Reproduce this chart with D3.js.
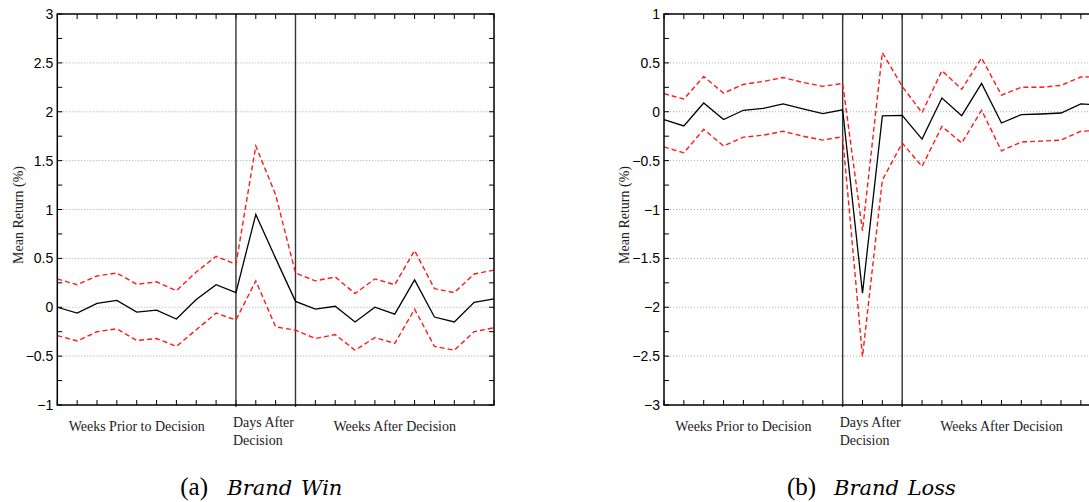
<!DOCTYPE html>
<html>
<head>
<meta charset="utf-8">
<script src="https://cdn.jsdelivr.net/npm/d3@7"></script>
<style>
  body { margin: 0; background: #fff; }
  svg { display: block; }
</style>
</head>
<body>
<div class="viz"></div>
<script>
// Event-time index: 0-9 weeks prior, 9-12 days after, 12-22 weeks after
var steps = [0,1,2,3,4,5,6,7,8,9,10,11,12,13,14,15,16,17,18,19,20,21,22];

// (a) Brand Win
var winMean  = [0, -0.06, 0.04, 0.07, -0.05, -0.03, -0.12, 0.08, 0.23, 0.15, 0.95, 0.5, 0.06, -0.02, 0.01, -0.15, 0.0, -0.07, 0.28, -0.10, -0.15, 0.05, 0.085];
var winUpper = [0.29, 0.23, 0.32, 0.35, 0.235, 0.26, 0.17, 0.36, 0.52, 0.44, 1.65, 1.15, 0.35, 0.27, 0.31, 0.14, 0.29, 0.23, 0.58, 0.19, 0.15, 0.34, 0.38];
var winLower = [-0.29, -0.345, -0.25, -0.22, -0.34, -0.32, -0.40, -0.23, -0.06, -0.13, 0.27, -0.20, -0.235, -0.32, -0.28, -0.44, -0.31, -0.37, -0.02, -0.40, -0.44, -0.25, -0.21];

// (b) Brand Loss
var lossMean  = [-0.08, -0.145, 0.09, -0.08, 0.015, 0.035, 0.08, 0.03, -0.02, 0.02, -1.857, -0.043, -0.037, -0.28, 0.14, -0.04, 0.29, -0.115, -0.03, -0.023, -0.013, 0.08, 0.07];
var lossUpper = [0.185, 0.13, 0.36, 0.19, 0.28, 0.31, 0.35, 0.30, 0.26, 0.29, -1.22, 0.605, 0.26, -0.01, 0.42, 0.23, 0.55, 0.17, 0.25, 0.25, 0.27, 0.355, 0.36];
var lossLower = [-0.36, -0.42, -0.18, -0.35, -0.26, -0.24, -0.20, -0.25, -0.29, -0.255, -2.506, -0.70, -0.32, -0.56, -0.15, -0.32, 0.015, -0.40, -0.31, -0.30, -0.29, -0.20, -0.19];

// y axis ticks
var winTicks  = [-1, -0.5, 0, 0.5, 1, 1.5, 2, 2.5, 3];
var lossTicks = [-3, -2.5, -2, -1.5, -1, -0.5, 0, 0.5, 1];
var winMinor  = [-1, -0.75, -0.5, -0.25, 0, 0.25, 0.5, 0.75, 1, 1.25, 1.5, 1.75, 2, 2.25, 2.5, 2.75, 3];
var lossMinor = [-3, -2.75, -2.5, -2.25, -2, -1.75, -1.5, -1.25, -1, -0.75, -0.5, -0.25, 0, 0.25, 0.5, 0.75, 1];
var eventLines = [9, 12];

var w = 1089, h = 502;
var svg = d3.select('.viz').append('svg').attr('width', w).attr('height', h);

// plot box (named to avoid window.top)
var yTop = 14, yBot = 405, pw = 436.7;
var fmt = function(d) { return String(d).replace('-', '\u2212'); };

function panel(x0, mean, upper, lower, ticks, minor, letter, title) {
  var x = d3.scaleLinear().domain([0, 22]).range([x0, x0 + pw]);
  var y = d3.scaleLinear().domain(d3.extent(ticks)).range([yBot, yTop]);
  var g = svg.append('g');

  // dotted grid on major ticks
  g.selectAll('.grid')
   .data(ticks.slice(1, -1))
   .enter().append('line')
   .attr('x1', x0).attr('x2', x0 + pw)
   .attr('y1', function(d) { return y(d); })
   .attr('y2', function(d) { return y(d); })
   .attr('stroke', '#a8a8a8')
   .attr('stroke-width', 1)
   .attr('stroke-dasharray', '1,2');

  // inward ticks, all four sides
  var tl = 5;
  g.selectAll('.xtb').data(steps).enter().append('line')
   .attr('x1', function(d) { return x(d); }).attr('x2', function(d) { return x(d); })
   .attr('y1', yBot).attr('y2', yBot - tl)
   .attr('stroke', '#000').attr('stroke-width', 1);
  g.selectAll('.xtt').data(steps).enter().append('line')
   .attr('x1', function(d) { return x(d); }).attr('x2', function(d) { return x(d); })
   .attr('y1', yTop).attr('y2', yTop + tl)
   .attr('stroke', '#000').attr('stroke-width', 1);
  g.selectAll('.ytl').data(minor).enter().append('line')
   .attr('x1', x0).attr('x2', x0 + tl)
   .attr('y1', function(d) { return y(d); }).attr('y2', function(d) { return y(d); })
   .attr('stroke', '#000').attr('stroke-width', 1);
  g.selectAll('.ytr').data(minor).enter().append('line')
   .attr('x1', x0 + pw).attr('x2', x0 + pw - tl)
   .attr('y1', function(d) { return y(d); }).attr('y2', function(d) { return y(d); })
   .attr('stroke', '#000').attr('stroke-width', 1);

  // y tick labels
  g.selectAll('.ylab').data(ticks).enter().append('text')
   .attr('x', x0 - 4)
   .attr('y', function(d) { return y(d); })
   .attr('dy', '0.36em')
   .attr('text-anchor', 'end')
   .attr('font-family', 'Liberation Sans, Arial, sans-serif')
   .attr('font-size', '14px')
   .text(fmt);

  // event window lines
  g.selectAll('.ev').data(eventLines).enter().append('line')
   .attr('x1', function(d) { return x(d); }).attr('x2', function(d) { return x(d); })
   .attr('y1', yTop).attr('y2', yBot + 2)
   .attr('stroke', '#333').attr('stroke-width', 1.4);

  var line = d3.line()
    .x(function(d, i) { return x(steps[i]); })
    .y(function(d) { return y(d); });

  [upper, lower].forEach(function(s) {
    g.append('path').datum(s)
     .attr('d', line).attr('fill', 'none')
     .attr('stroke', '#ff1a1a').attr('stroke-width', 1.4)
     .attr('stroke-dasharray', '5,3');
  });
  g.append('path').datum(mean)
   .attr('d', line).attr('fill', 'none')
   .attr('stroke', '#000').attr('stroke-width', 1.3);

  // frame
  g.append('rect')
   .attr('x', x0).attr('y', yTop).attr('width', pw).attr('height', yBot - yTop)
   .attr('fill', 'none').attr('stroke', '#000').attr('stroke-width', 1.5);

  // axis titles
  var serif = 'Liberation Serif, Times New Roman, serif';
  g.append('text')
   .attr('transform', 'translate(' + (x0 - 38) + ',215) rotate(-90)')
   .attr('text-anchor', 'middle')
   .attr('dominant-baseline', 'middle')
   .attr('font-family', serif).attr('font-size', '14px').attr('fill', '#222')
   .text('Mean Return (%)');
  g.append('text')
   .attr('x', x(4)).attr('y', 431).attr('text-anchor', 'middle')
   .attr('font-family', serif).attr('font-size', '14px').attr('fill', '#222')
   .text('Weeks Prior to Decision');
  g.append('text')
   .attr('x', x(9) - 3).attr('y', 427)
   .attr('font-family', serif).attr('font-size', '14px').attr('fill', '#222')
   .text('Days After');
  g.append('text')
   .attr('x', x(9) - 3).attr('y', 445)
   .attr('font-family', serif).attr('font-size', '14px').attr('fill', '#222')
   .text('Decision');
  g.append('text')
   .attr('x', x(17)).attr('y', 431).attr('text-anchor', 'middle')
   .attr('font-family', serif).attr('font-size', '14px').attr('fill', '#222')
   .text('Weeks After Decision');

  // caption
  g.append('text')
   .attr('x', x0 + 123).attr('y', 495)
   .attr('font-family', serif).attr('font-size', '25px')
   .text(letter);
  g.append('text')
   .attr('x', x0 + 170).attr('y', 495)
   .attr('font-family', 'DejaVu Serif, serif').attr('font-size', '21px')
   .attr('font-style', 'italic').attr('word-spacing', '2px')
   .text(title);
}

panel(57.3, winMean, winUpper, winLower, winTicks, winMinor, '(a)', 'Brand Win');
panel(664, lossMean, lossUpper, lossLower, lossTicks, lossMinor, '(b)', 'Brand Loss');
</script>
</body>
</html>
